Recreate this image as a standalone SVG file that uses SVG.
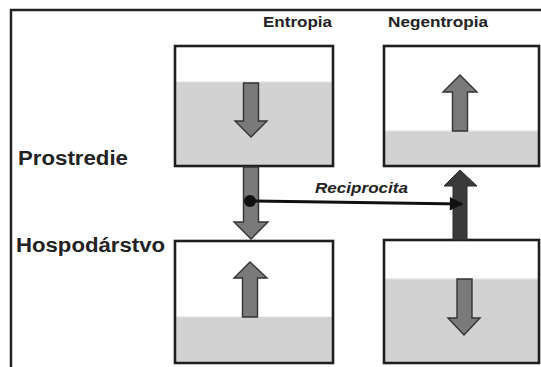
<svg xmlns="http://www.w3.org/2000/svg" width="541" height="367" viewBox="0 0 541 367">
<style>
.frame{fill:none;stroke:#222;stroke-width:2.5}
.box{fill:none;stroke:#1e1e1e;stroke-width:2.6}
.water{fill:#d2d2d2;stroke:#e2e2e2;stroke-width:1}
.arr{fill:#7a7a7a;stroke:#333;stroke-width:1.4;stroke-linejoin:miter}
.dark{fill:#3a3a3a;stroke:#2a2a2a;stroke-width:1}
.lbl{font-family:"Liberation Sans",Arial,sans-serif;font-weight:bold;fill:#222}
</style>
<defs>
<marker id="ah" viewBox="0 0 10 10" refX="9" refY="5" markerWidth="5" markerHeight="4.5" orient="auto" markerUnits="strokeWidth">
<path d="M0,0 L10,5 L0,10 Z" fill="#111"/>
</marker>
</defs>
<rect width="541" height="367" fill="#fff"/>
<path class="frame" d="M11,367 V10 H541"/>
<text class="lbl" x="263" y="27" font-size="14" textLength="69" lengthAdjust="spacingAndGlyphs">Entropia</text>
<text class="lbl" x="388" y="27" font-size="14" textLength="100" lengthAdjust="spacingAndGlyphs">Negentropia</text>
<text class="lbl" x="18" y="165" font-size="20" textLength="110" lengthAdjust="spacingAndGlyphs">Prostredie</text>
<text class="lbl" x="16" y="252" font-size="20" textLength="149" lengthAdjust="spacingAndGlyphs">Hospodárstvo</text>
<g id="box-prostredie-entropia">
<rect class="water" x="176" y="82" width="156" height="83"/>
<rect class="box" x="175" y="46" width="158" height="120"/>
<polygon class="arr" points="243.5,83 258.5,83 258.5,121 267,121 251,137 235,121 243.5,121"/>
</g>
<g id="box-prostredie-negentropia">
<rect class="water" x="385" y="131" width="153" height="34"/>
<rect class="box" x="384" y="46" width="155" height="120"/>
<polygon class="arr" points="452.5,131 467.5,131 467.5,92 477,92 460,75 443,92 452.5,92"/>
</g>
<g id="box-hospodarstvo-entropia">
<rect class="water" x="176" y="317" width="156" height="45"/>
<rect class="box" x="175" y="241" width="158" height="122"/>
<polygon class="arr" points="242.5,317 257.5,317 257.5,278 267,278 250,262 234,278 242.5,278"/>
</g>
<g id="box-hospodarstvo-negentropia">
<rect class="water" x="385" y="279" width="153" height="83"/>
<rect class="box" x="384" y="240" width="155" height="123"/>
<polygon class="arr" points="457,279 472,279 472,318 480,318 464,335 448,318 457,318"/>
</g>
<g id="connectors">
<polygon class="arr" points="243.5,167 258.5,167 258.5,222 268,222 251,239 234,222 243.5,222"/>
<polygon class="dark" points="453,240 467,240 467,186 477,186 460,170 444,186 453,186"/>
<line x1="250" y1="201" x2="462" y2="204" stroke="#111" stroke-width="3" marker-end="url(#ah)"/>
<circle cx="250" cy="201" r="6" fill="#111"/>
<text class="lbl" x="315" y="193" font-size="15" font-style="italic" textLength="93" lengthAdjust="spacingAndGlyphs">Reciprocita</text>
</g>
</svg>
